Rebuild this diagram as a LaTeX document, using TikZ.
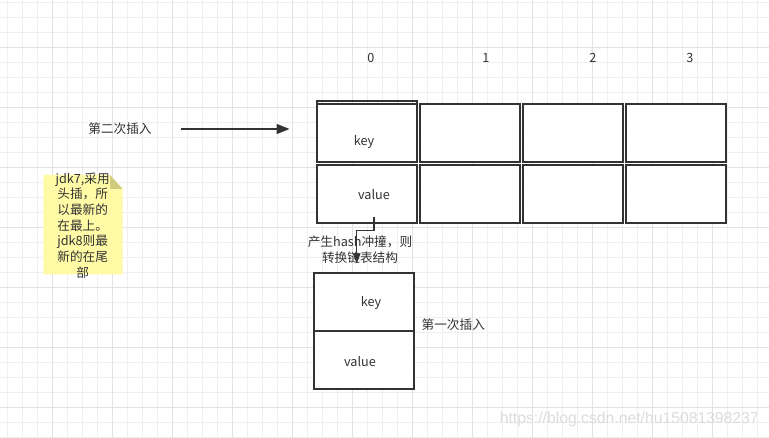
\documentclass[tikz,border=0pt]{standalone}
\usepackage{fontspec}
\setmainfont{Noto Sans CJK SC}
\newfontfamily\wmfont{Liberation Sans}
\usepackage{tikz}
\usetikzlibrary{positioning, chains, arrows.meta}
\definecolor{ink}{HTML}{333333}
\definecolor{minorgrid}{HTML}{EFEFEF}
\definecolor{majorgrid}{HTML}{E2E2E2}
\definecolor{notefill}{HTML}{FFFAA6}
\definecolor{notefold}{HTML}{CFCC80}
\definecolor{wmark}{HTML}{DCDCDC}

\begin{document}
\begin{tikzpicture}[x=0.75pt, y=-0.75pt, start chain=1 going right, node distance=2.25pt,
	font=\fontsize{9.5pt}{11.8pt}\selectfont, text=ink,
	cell/.style={draw=ink, line width=1.5pt, fill=white, minimum width=75pt, minimum height=43.5pt, outer sep=0pt, inner sep=0pt},
	link/.style={draw=ink, line width=1.2pt}]
	\useasboundingbox (0,0) rectangle (769,438);
	\fill[white] (0,0) rectangle (769,438);
	\foreach \i in {0,...,51} \draw[minorgrid, line width=0.75pt] ({7.3+15*\i},0) -- ({7.3+15*\i},438);
	\foreach \i in {0,...,29} \draw[minorgrid, line width=0.75pt] (0,{2.3+15*\i}) -- (769,{2.3+15*\i});
	\foreach \i in {0,...,11} \draw[majorgrid, line width=0.75pt] ({52.3+60*\i},0) -- ({52.3+60*\i},438);
	\foreach \i in {0,...,6} \draw[majorgrid, line width=0.75pt] (0,{47.3+60*\i}) -- (769,{47.3+60*\i});

	\node[cell, on chain=1] (k0) at (367,133) {};
	\node[cell, on chain=1] (k1) {};
	\node[cell, on chain=1] (k2) {};
	\node[cell, on chain=1] (k3) {};
	\foreach \c in {0,...,3} \node[cell, below=of k\c] (v\c) {};
	\draw[ink, line width=1.5pt] (k0.south west) rectangle ([yshift=2.25pt]k0.north east);
	\node at ([shift={(-3,9)}]k0.center) {key};
	\node at ([shift={(7,1)}]v0.center) {value};
	\foreach \n/\x in {0/371,1/486,2/593,3/690} \node (i\n) at (\x,58) {\n};

	\node (t2) at (120,129) {第二次插入};
	\coordinate (a2s) at (181,129);
	\coordinate (a2e) at (289.5,129);
	\draw[link, -{Triangle[length=9.75pt, width=7.5pt]}] (a2s) -- (a2e);

	\fill[notefill] (43.3,175) -- (110,175) -- (122.7,189) -- (122.7,274.3) -- (43.3,274.3) -- cycle;
	\fill[notefold] (110,175) -- (122.7,189) -- (110,189) -- cycle;
	\node[align=center] (note) at (82.7,225.5) {jdk7,采用\\头插，所\\以最新的\\在最上。\\jdk8则最\\新的在尾\\部};

	\node[cell, minimum height=43.75pt] (lk) at (364,302) {};
	\node[cell, below=0pt of lk] (lv) {};
	\node at ([shift={(7,1)}]lk.center) {key};
	\node at ([shift={(-4,1)}]lv.center) {value};
	\node (t1) at (453.3,324.3) {第一次插入};

	\node[align=center] (ht) at (360,249.5) {产生hash冲撞，则\\转换链表结构};
	\coordinate (hs) at (374,216.7);
	\coordinate (he) at (356.7,263.5);
	\draw[link, line width=1.1pt, -{Triangle[length=7.5pt, width=5.5pt]}] (hs) -- ++(0,14) -| (he);

	\node[font=\wmfont\fontsize{11.8pt}{14pt}\selectfont, text=wmark] (wm) at (629.3,419.3) {https://blog.csdn.net/hu15081398237};
\end{tikzpicture}
\end{document}
